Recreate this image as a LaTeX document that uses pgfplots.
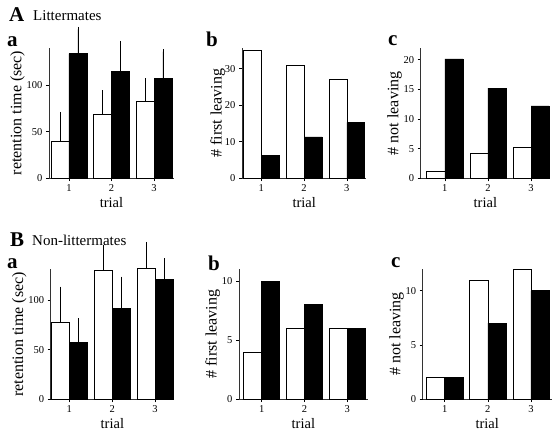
\documentclass[border=0pt]{standalone}
\usepackage{pgfplots}
\pgfplotsset{compat=1.18}
\usepackage{fontspec}
\setmainfont{Liberation Serif}
\pgfplotsset{
  panel/.style={
    scale only axis, anchor=south west,
    axis lines=left,
    axis line style={-, line width=0.7pt, black!80},
    tick style={black, line width=0.6pt},
    tick align=outside, major tick length=3pt,
    xtick={1,2,3},
    tick label style={font=\fontsize{10.5}{12}\selectfont},
    xlabel style={font=\fontsize{14.5}{16}\selectfont, yshift=1pt},
    ylabel style={font=\fontsize{16}{18}\selectfont, yshift=-4pt},
    xlabel={trial},
    ybar, bar width=0.42, bar shift=0pt,
    /pgf/number format/assume math mode=true,
    clip=false,
    ymin=0,
  },
  wbar/.style={fill=white, draw=black, line width=0.6pt},
  bbar/.style={fill=black, draw=black, line width=0.6pt},
  errs/.style={error bars/.cd, y dir=plus, y explicit,
    error bar style={black, line width=0.6pt},
    error mark options={black, line width=0.6pt, mark size=2.5pt}},
}
\begin{document}
\begin{tikzpicture}
\useasboundingbox (0,0) rectangle (560pt,-437pt);
% ---------- A ----------
\node[anchor=base west, inner sep=0, font=\bfseries\fontsize{21}{21}\selectfont] at (9pt,-21pt) {A};
\node[anchor=base west, inner sep=0, font=\fontsize{15}{15}\selectfont] at (33pt,-20pt) {Littermates};
\node[anchor=base west, inner sep=0, font=\bfseries\fontsize{21}{21}\selectfont] at (7pt,-46pt) {a};
\node[anchor=base west, inner sep=0, font=\bfseries\fontsize{21}{21}\selectfont] at (206pt,-46pt) {b};
\node[anchor=base west, inner sep=0, font=\bfseries\fontsize{21}{21}\selectfont] at (388pt,-45pt) {c};

\begin{axis}[panel, at={(49pt,-178pt)}, width=125pt, height=130pt,
  xmin=0.53, xmax=3.47, ymax=140, ytick={0,50,100},
  ylabel={retention time (sec)}, ylabel style={yshift=-1pt}]
\addplot[wbar, errs] coordinates {(0.79,40) +- (0,28.5) (1.79,68.5) +- (0,23.5) (2.79,83) +- (0,22)};
\addplot[bbar, errs] coordinates {(1.21,134) +- (0,26) (2.21,115) +- (0,30) (3.21,107) +- (0,29)};
\end{axis}

\begin{axis}[panel, at={(242pt,-178pt)}, width=124.5pt, height=130pt,
  xmin=0.55, xmax=3.46, ymax=35.7, ytick={0,10,20,30},
  ylabel={\# first leaving}, ylabel style={yshift=-3pt}]
\addplot[wbar] coordinates {(0.79,35) (1.79,31) (2.79,27)};
\addplot[bbar] coordinates {(1.21,6.3) (2.21,11.3) (3.21,15.3)};
\end{axis}

\begin{axis}[panel, at={(420.7pt,-178.3pt)}, width=129.3pt, height=130pt,
  xmin=0.44, xmax=3.44, ymax=21.9, ytick={0,5,10,15,20},
  ylabel={\# not leaving}, ylabel style={yshift=-1pt}]
\addplot[wbar] coordinates {(0.79,1.2) (1.79,4.2) (2.79,5.2)};
\addplot[bbar] coordinates {(1.21,20.1) (2.21,15.2) (3.21,12.2)};
\end{axis}

% ---------- B ----------
\node[anchor=base west, inner sep=0, font=\bfseries\fontsize{21}{21}\selectfont] at (10pt,-246pt) {B};
\node[anchor=base west, inner sep=0, font=\fontsize{15}{15}\selectfont] at (32pt,-245pt) {Non-littermates};
\node[anchor=base west, inner sep=0, font=\bfseries\fontsize{21}{21}\selectfont] at (7pt,-268pt) {a};
\node[anchor=base west, inner sep=0, font=\bfseries\fontsize{21}{21}\selectfont] at (208pt,-270pt) {b};
\node[anchor=base west, inner sep=0, font=\bfseries\fontsize{21}{21}\selectfont] at (391pt,-267pt) {c};

\begin{axis}[panel, at={(50.7pt,-399.3pt)}, width=123.3pt, height=130pt,
  xmin=0.57, xmax=3.44, ymax=131, ytick={0,50,100},
  ylabel={retention time (sec)}, ylabel style={yshift=-1pt}]
\addplot[wbar, errs] coordinates {(0.79,78) +- (0,33) (1.79,129.5) +- (0,23.5) (2.79,132) +- (0,24)};
\addplot[bbar, errs] coordinates {(1.21,57) +- (0,22) (2.21,92) +- (0,29) (3.21,121) +- (0,18.5)};
\end{axis}

\begin{axis}[panel, at={(239pt,-399pt)}, width=128.7pt, height=129.7pt,
  xmin=0.47, xmax=3.48, ymax=11, ytick={0,5,10},
  ylabel={\# first leaving}, ylabel style={yshift=-1pt}]
\addplot[wbar] coordinates {(0.79,4) (1.79,6) (2.79,6)};
\addplot[bbar] coordinates {(1.21,10) (2.21,8) (3.21,6)};
\end{axis}

\begin{axis}[panel, at={(422.7pt,-399pt)}, width=129pt, height=130pt,
  xmin=0.49, xmax=3.48, ymax=12, ytick={0,5,10},
  ylabel={\# not leaving}, ylabel style={yshift=-1pt}]
\addplot[wbar] coordinates {(0.79,2) (1.79,11) (2.79,12)};
\addplot[bbar] coordinates {(1.21,2) (2.21,7) (3.21,10)};
\end{axis}
\end{tikzpicture}
\end{document}
